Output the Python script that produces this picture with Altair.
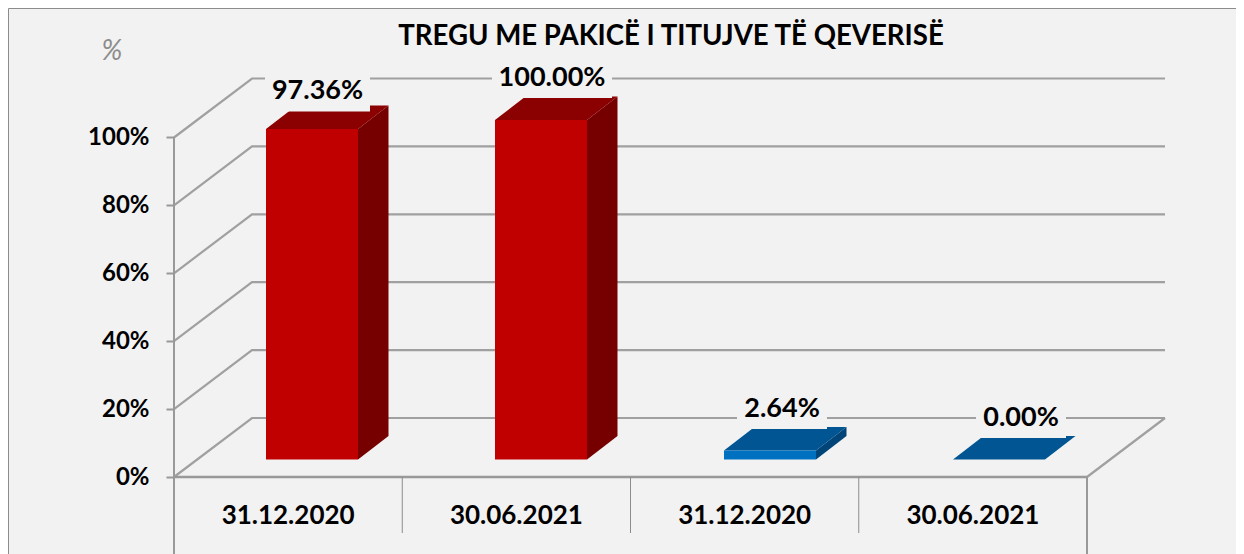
import altair as alt
import pandas as pd

TITLE = "TREGU ME PAKICË I TITUJVE TË QEVERISË"
categories = ["31.12.2020", "30.06.2021", "31.12.2020", "30.06.2021"]
values = [97.36, 100.00, 2.64, 0.00]
value_labels = ["97.36%", "100.00%", "2.64%", "0.00%"]
ticks = [0, 20, 40, 60, 80, 100]
front_colors = ["#C00000", "#C00000", "#0070C0", "#0070C0"]
top_colors = ["#8B0000", "#8B0000", "#005592", "#005592"]
side_colors = ["#760000", "#760000", "#004478", "#004478"]

PX_X, PX_Y = 228.25, 3.395
W, H = 1228, 546
X0, Y0 = 166, 469
xs = alt.Scale(domain=[-X0 / PX_X, (W - X0) / PX_X], range=[0, W], nice=False, zero=False)
ys = alt.Scale(domain=[(Y0 - H) / PX_Y, Y0 / PX_Y], range=[H, 0], nice=False, zero=False)

DEPTH_X, DEPTH_Y = 78 / PX_X, 59 / PX_Y
BAR_L, BAR_W = 92 / PX_X, 92 / PX_X
BAR_STEP = 229 / PX_X
BAR_DX, BAR_DY = 30.5 / PX_X, 23.5 / PX_Y
BASE = 17.5 / PX_Y
N = len(categories)

grid = pd.DataFrame(
    [r for v in ticks for r in (
        {"g": v, "o": 0, "x": 0, "y": v},
        {"g": v, "o": 1, "x": DEPTH_X, "y": v + DEPTH_Y},
        {"g": v, "o": 2, "x": N + DEPTH_X, "y": v + DEPTH_Y},
    )]
    + [{"g": -1, "o": 0, "x": N, "y": 0}, {"g": -1, "o": 1, "x": N + DEPTH_X, "y": DEPTH_Y}]
)
baseline = pd.DataFrame({"g": [0, 0], "o": [0, 1], "x": [0, N], "y": [0, 0]})

side, top, front, boxes = [], [], [], []
label_dx = [51.5, 57, 58, 68]       # label centre from the bar's left edge, px
label_dy = [37.5, 42, 41.5, 41.5]   # label centre above the bar's top, px
box_w = [105, 120, 90, 90]          # label background width, px
for i, v in enumerate(values):
    L = i * BAR_STEP + BAR_L
    R = L + BAR_W
    b = BASE
    t = BASE + v
    side += [
        {"b": i, "x": R, "y": b, "y2": t, "c": side_colors[i]},
        {"b": i, "x": R + BAR_DX, "y": b + BAR_DY, "y2": t + BAR_DY, "c": side_colors[i]},
    ]
    top += [
        {"b": i, "x": L, "y": t, "y2": t, "c": top_colors[i]},
        {"b": i, "x": L + BAR_DX, "y": t, "y2": t + BAR_DY, "c": top_colors[i]},
        {"b": i, "x": R, "y": t, "y2": t + BAR_DY, "c": top_colors[i]},
        {"b": i, "x": R + BAR_DX, "y": t + BAR_DY, "y2": t + BAR_DY, "c": top_colors[i]},
    ]
    front.append({"x": L, "x2": R, "y": b, "y2": t, "c": front_colors[i]})
    cx = L + label_dx[i] / PX_X
    cy = t + label_dy[i] / PX_Y
    boxes.append({
        "x": cx, "y": cy, "t": value_labels[i],
        "bx": cx - box_w[i] / 2 / PX_X, "bx2": cx + box_w[i] / 2 / PX_X,
        "by": cy + 15 / PX_Y, "by2": cy - 20 / PX_Y,
    })
side, top, front, boxes = map(pd.DataFrame, (side, top, front, boxes))
cats = pd.DataFrame({"x": [i + 0.5 for i in range(N)], "y": [-39 / PX_Y] * N, "t": categories})
seps = pd.DataFrame({"x": [1, 2, 3], "y": [0] * 3, "y2": [-56 / PX_Y] * 3})
edges = pd.DataFrame({"x": [0, N], "y": [100, 0], "y2": [(Y0 - H) / PX_Y] * 2})
unit = pd.DataFrame({"x": [-62 / PX_X], "y": [425 / PX_Y], "t": ["%"]})

FONT = "Lato"
y_axis = alt.Axis(
    values=ticks, title=None, domain=False, grid=False, offset=-X0, tickSize=8,
    tickColor="#999999", tickWidth=2, labelPadding=17, labelFont=FONT,
    labelFontSize=24, labelFontWeight="bold", labelColor="#000000",
    labelExpr="datum.value + '%'",
)
X = alt.X("x:Q", scale=xs, axis=None)
Y = alt.Y("y:Q", scale=ys, axis=y_axis)
col = alt.Color("c:N", scale=None)

gridlines = alt.Chart(grid).mark_line(color="#A0A0A0", strokeWidth=2.2).encode(
    x=X, y=Y, detail="g:N", order="o:Q")
base_line = alt.Chart(baseline).mark_line(color="#999999", strokeWidth=2.6).encode(
    x=X, y=Y, detail="g:N", order="o:Q")
edge_rules = alt.Chart(edges).mark_rule(color="#999999", strokeWidth=2).encode(x=X, y=Y, y2="y2:Q")
sep_rules = alt.Chart(seps).mark_rule(color="#8C8C8C", strokeWidth=1).encode(x=X, y=Y, y2="y2:Q")
side_l = alt.Chart(side).mark_area(orient="vertical").encode(x=X, y=Y, y2="y2:Q", color=col, detail="b:N")
top_l = alt.Chart(top).mark_area(orient="vertical").encode(x=X, y=Y, y2="y2:Q", color=col, detail="b:N")
front_l = alt.Chart(front).mark_rect().encode(x=X, x2="x2:Q", y=Y, y2="y2:Q", color=col)
box_l = alt.Chart(boxes).mark_rect(color="#F2F2F2").encode(
    x=alt.X("bx:Q", scale=xs, axis=None), x2="bx2:Q",
    y=alt.Y("by:Q", scale=ys, axis=y_axis), y2="by2:Q")
label_text = alt.Chart(boxes).mark_text(
    font=FONT, fontSize=27, fontWeight="bold", color="#000000", baseline="middle"
).encode(x=X, y=Y, text="t:N")
cat_text = alt.Chart(cats).mark_text(
    font=FONT, fontSize=26, fontWeight="bold", color="#000000", baseline="middle"
).encode(x=X, y=Y, text="t:N")
unit_text = alt.Chart(unit).mark_text(
    font=FONT, fontSize=28, fontStyle="italic", color="#8C8C8C", baseline="middle"
).encode(x=X, y=Y, text="t:N")

chart = alt.layer(
    gridlines, base_line, edge_rules, sep_rules,
    side_l, top_l, front_l, box_l, label_text, cat_text, unit_text,
).properties(
    width=W, height=H,
    title=alt.TitleParams(
        text=TITLE, anchor="start", align="center", dx=663, dy=57, offset=0,
        baseline="middle", font=FONT, fontSize=27.6, fontWeight="bold", color="#000000",
    ),
    autosize=alt.AutoSizeParams(type="none"),
    padding=0,
    background="#F2F2F2",
).configure_view(fill="#F2F2F2", stroke="#8C8C8C", strokeWidth=1)

chart.save("out.html", embed_options={"renderer": "svg", "actions": False})
